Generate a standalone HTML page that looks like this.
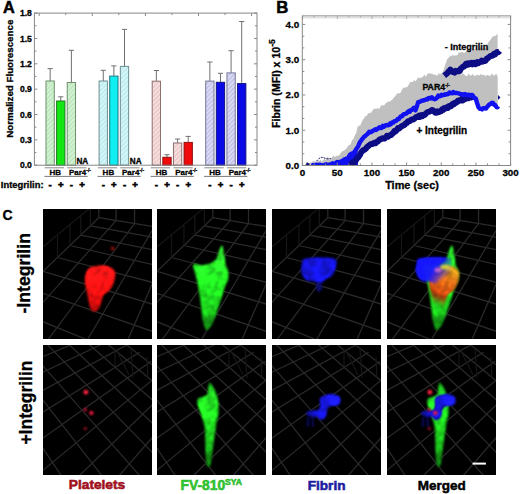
<!DOCTYPE html>
<html><head><meta charset="utf-8"><style>
html,body{margin:0;padding:0;background:#fff;width:520px;height:494px;overflow:hidden}
svg{display:block}
text{font-family:'Liberation Sans',sans-serif;font-weight:bold}
text:not([stroke]){stroke:#000;stroke-width:0.3px}
</style></head><body>
<svg width="520" height="494" viewBox="0 0 520 494">
<defs><pattern id="hg" patternUnits="userSpaceOnUse" width="3.2" height="3.2" patternTransform="rotate(45)">
<rect width="3.2" height="3.2" fill="#d2f2d2"/><rect width="1.1" height="3.2" fill="#b6e4b6"/></pattern><pattern id="hc" patternUnits="userSpaceOnUse" width="3.2" height="3.2" patternTransform="rotate(45)">
<rect width="3.2" height="3.2" fill="#d4f6f8"/><rect width="1.1" height="3.2" fill="#b6e8ee"/></pattern><pattern id="hp" patternUnits="userSpaceOnUse" width="3.2" height="3.2" patternTransform="rotate(45)">
<rect width="3.2" height="3.2" fill="#f6dede"/><rect width="1.1" height="3.2" fill="#e6c2c2"/></pattern><pattern id="hl" patternUnits="userSpaceOnUse" width="3.2" height="3.2" patternTransform="rotate(45)">
<rect width="3.2" height="3.2" fill="#dadaf4"/><rect width="1.1" height="3.2" fill="#bcbce6"/></pattern><linearGradient id="bgrad" gradientUnits="userSpaceOnUse" x1="28" y1="50" x2="62" y2="70"><stop offset="0" stop-color="#1414ff" stop-opacity="1"/><stop offset="0.55" stop-color="#1414ff" stop-opacity="0.95"/><stop offset="1" stop-color="#1414ff" stop-opacity="0"/></linearGradient><linearGradient id="og1" gradientUnits="userSpaceOnUse" x1="66" y1="56" x2="46" y2="103"><stop offset="0" stop-color="#e8c020" stop-opacity="0.95"/><stop offset="0.3" stop-color="#e87818" stop-opacity="0.95"/><stop offset="0.6" stop-color="#e05010" stop-opacity="0.92"/><stop offset="0.72" stop-color="#c04810" stop-opacity="0.6"/><stop offset="0.85" stop-color="#a03010" stop-opacity="0"/></linearGradient><linearGradient id="bg2" gradientUnits="userSpaceOnUse" x1="66" y1="50" x2="36" y2="74"><stop offset="0" stop-color="#1c1cff"/><stop offset="0.5" stop-color="#1616e0"/><stop offset="1" stop-color="#1010a8"/></linearGradient><linearGradient id="rg1" x1="0" y1="0" x2="0" y2="1"><stop offset="0" stop-color="#ff1818"/><stop offset="0.6" stop-color="#f01010"/><stop offset="1" stop-color="#b00808"/></linearGradient><linearGradient id="gg1" x1="0" y1="0" x2="0" y2="1"><stop offset="0" stop-color="#30ee30"/><stop offset="0.4" stop-color="#22f022"/><stop offset="0.75" stop-color="#1cc81c"/><stop offset="1" stop-color="#108a10"/></linearGradient><linearGradient id="gg2" x1="0" y1="0" x2="0" y2="1"><stop offset="0" stop-color="#20c020"/><stop offset="0.3" stop-color="#22e822"/><stop offset="0.7" stop-color="#1cc01c"/><stop offset="1" stop-color="#108010"/></linearGradient><filter id="bl" x="-30%" y="-30%" width="160%" height="160%"><feGaussianBlur stdDeviation="1.3"/></filter><filter id="tx" x="-30%" y="-30%" width="160%" height="160%" color-interpolation-filters="sRGB"><feGaussianBlur in="SourceGraphic" stdDeviation="1.3" result="b"/><feTurbulence type="fractalNoise" baseFrequency="0.12" numOctaves="2" seed="7" result="n"/><feColorMatrix in="n" type="matrix" values="1.3 0 0 0 0  1.3 0 0 0 0  1.3 0 0 0 0  0 0 0 0 1" result="n2"/><feComposite in="b" in2="n2" operator="arithmetic" k1="0.6" k2="0.66" k3="0" k4="0"/></filter><filter id="bl2" x="-50%" y="-50%" width="200%" height="200%"><feGaussianBlur stdDeviation="0.9"/></filter></defs>
<rect width="520" height="494" fill="#fff"/>
<g><line x1="50.15" y1="68.60" x2="50.15" y2="81.00" stroke="#707070" stroke-width="1"/><line x1="47.55" y1="68.60" x2="52.75" y2="68.60" stroke="#707070" stroke-width="1"/><rect x="46.00" y="81.00" width="8.30" height="84.20" fill="url(#hg)" stroke="#6e8e6e" stroke-width="1"/><line x1="60.77" y1="96.80" x2="60.77" y2="101.00" stroke="#707070" stroke-width="1"/><line x1="58.17" y1="96.80" x2="63.37" y2="96.80" stroke="#707070" stroke-width="1"/><rect x="56.62" y="101.00" width="8.30" height="64.20" fill="#14e614" stroke="#1e781e" stroke-width="1"/><line x1="71.39" y1="50.30" x2="71.39" y2="82.50" stroke="#707070" stroke-width="1"/><line x1="68.79" y1="50.30" x2="73.99" y2="50.30" stroke="#707070" stroke-width="1"/><rect x="67.24" y="82.50" width="8.30" height="82.70" fill="url(#hg)" stroke="#6e8e6e" stroke-width="1"/><line x1="103.25" y1="70.30" x2="103.25" y2="81.00" stroke="#707070" stroke-width="1"/><line x1="100.65" y1="70.30" x2="105.85" y2="70.30" stroke="#707070" stroke-width="1"/><rect x="99.10" y="81.00" width="8.30" height="84.20" fill="url(#hc)" stroke="#6e8e90" stroke-width="1"/><line x1="113.87" y1="65.90" x2="113.87" y2="76.10" stroke="#707070" stroke-width="1"/><line x1="111.27" y1="65.90" x2="116.47" y2="65.90" stroke="#707070" stroke-width="1"/><rect x="109.72" y="76.10" width="8.30" height="89.10" fill="#10eef2" stroke="#1e7880" stroke-width="1"/><line x1="124.49" y1="29.40" x2="124.49" y2="66.40" stroke="#707070" stroke-width="1"/><line x1="121.89" y1="29.40" x2="127.09" y2="29.40" stroke="#707070" stroke-width="1"/><rect x="120.34" y="66.40" width="8.30" height="98.80" fill="url(#hc)" stroke="#6e8e90" stroke-width="1"/><line x1="156.35" y1="70.50" x2="156.35" y2="81.20" stroke="#707070" stroke-width="1"/><line x1="153.75" y1="70.50" x2="158.95" y2="70.50" stroke="#707070" stroke-width="1"/><rect x="152.20" y="81.20" width="8.30" height="84.00" fill="url(#hp)" stroke="#8e6e6e" stroke-width="1"/><line x1="166.97" y1="154.70" x2="166.97" y2="157.30" stroke="#707070" stroke-width="1"/><line x1="164.37" y1="154.70" x2="169.57" y2="154.70" stroke="#707070" stroke-width="1"/><rect x="162.82" y="157.30" width="8.30" height="7.90" fill="#f00a0a" stroke="#901010" stroke-width="1"/><line x1="177.59" y1="139.00" x2="177.59" y2="143.00" stroke="#707070" stroke-width="1"/><line x1="174.99" y1="139.00" x2="180.19" y2="139.00" stroke="#707070" stroke-width="1"/><rect x="173.44" y="143.00" width="8.30" height="22.20" fill="url(#hp)" stroke="#8e6e6e" stroke-width="1"/><line x1="188.21" y1="136.40" x2="188.21" y2="142.40" stroke="#707070" stroke-width="1"/><line x1="185.61" y1="136.40" x2="190.81" y2="136.40" stroke="#707070" stroke-width="1"/><rect x="184.06" y="142.40" width="8.30" height="22.80" fill="#f00a0a" stroke="#901010" stroke-width="1"/><line x1="209.85" y1="62.00" x2="209.85" y2="81.10" stroke="#707070" stroke-width="1"/><line x1="207.25" y1="62.00" x2="212.45" y2="62.00" stroke="#707070" stroke-width="1"/><rect x="205.70" y="81.10" width="8.30" height="84.10" fill="url(#hl)" stroke="#76769a" stroke-width="1"/><line x1="220.47" y1="73.30" x2="220.47" y2="82.30" stroke="#707070" stroke-width="1"/><line x1="217.87" y1="73.30" x2="223.07" y2="73.30" stroke="#707070" stroke-width="1"/><rect x="216.32" y="82.30" width="8.30" height="82.90" fill="#0a0ae6" stroke="#101080" stroke-width="1"/><line x1="231.09" y1="50.70" x2="231.09" y2="72.90" stroke="#707070" stroke-width="1"/><line x1="228.49" y1="50.70" x2="233.69" y2="50.70" stroke="#707070" stroke-width="1"/><rect x="226.94" y="72.90" width="8.30" height="92.30" fill="url(#hl)" stroke="#76769a" stroke-width="1"/><line x1="241.71" y1="21.50" x2="241.71" y2="83.60" stroke="#707070" stroke-width="1"/><line x1="239.11" y1="21.50" x2="244.31" y2="21.50" stroke="#707070" stroke-width="1"/><rect x="237.56" y="83.60" width="8.30" height="81.60" fill="#0a0ae6" stroke="#101080" stroke-width="1"/><rect x="34.4" y="13.1" width="222.60" height="152.10" fill="none" stroke="#888888" stroke-width="1"/><line x1="34.4" y1="165.20" x2="37.4" y2="165.20" stroke="#888888" stroke-width="1"/><line x1="257.0" y1="165.20" x2="254.0" y2="165.20" stroke="#888888" stroke-width="1"/><line x1="34.4" y1="152.52" x2="36.4" y2="152.52" stroke="#888888" stroke-width="1"/><line x1="257.0" y1="152.52" x2="255.0" y2="152.52" stroke="#888888" stroke-width="1"/><line x1="34.4" y1="139.85" x2="37.4" y2="139.85" stroke="#888888" stroke-width="1"/><line x1="257.0" y1="139.85" x2="254.0" y2="139.85" stroke="#888888" stroke-width="1"/><line x1="34.4" y1="127.17" x2="36.4" y2="127.17" stroke="#888888" stroke-width="1"/><line x1="257.0" y1="127.17" x2="255.0" y2="127.17" stroke="#888888" stroke-width="1"/><line x1="34.4" y1="114.50" x2="37.4" y2="114.50" stroke="#888888" stroke-width="1"/><line x1="257.0" y1="114.50" x2="254.0" y2="114.50" stroke="#888888" stroke-width="1"/><line x1="34.4" y1="101.82" x2="36.4" y2="101.82" stroke="#888888" stroke-width="1"/><line x1="257.0" y1="101.82" x2="255.0" y2="101.82" stroke="#888888" stroke-width="1"/><line x1="34.4" y1="89.15" x2="37.4" y2="89.15" stroke="#888888" stroke-width="1"/><line x1="257.0" y1="89.15" x2="254.0" y2="89.15" stroke="#888888" stroke-width="1"/><line x1="34.4" y1="76.47" x2="36.4" y2="76.47" stroke="#888888" stroke-width="1"/><line x1="257.0" y1="76.47" x2="255.0" y2="76.47" stroke="#888888" stroke-width="1"/><line x1="34.4" y1="63.80" x2="37.4" y2="63.80" stroke="#888888" stroke-width="1"/><line x1="257.0" y1="63.80" x2="254.0" y2="63.80" stroke="#888888" stroke-width="1"/><line x1="34.4" y1="51.12" x2="36.4" y2="51.12" stroke="#888888" stroke-width="1"/><line x1="257.0" y1="51.12" x2="255.0" y2="51.12" stroke="#888888" stroke-width="1"/><line x1="34.4" y1="38.45" x2="37.4" y2="38.45" stroke="#888888" stroke-width="1"/><line x1="257.0" y1="38.45" x2="254.0" y2="38.45" stroke="#888888" stroke-width="1"/><line x1="34.4" y1="25.78" x2="36.4" y2="25.78" stroke="#888888" stroke-width="1"/><line x1="257.0" y1="25.78" x2="255.0" y2="25.78" stroke="#888888" stroke-width="1"/><line x1="34.4" y1="13.10" x2="37.4" y2="13.10" stroke="#888888" stroke-width="1"/><line x1="257.0" y1="13.10" x2="254.0" y2="13.10" stroke="#888888" stroke-width="1"/><line x1="39.20" y1="13.1" x2="39.20" y2="16.1" stroke="#888888" stroke-width="1"/><line x1="65.75" y1="13.1" x2="65.75" y2="15.1" stroke="#888888" stroke-width="1"/><line x1="92.30" y1="13.1" x2="92.30" y2="16.1" stroke="#888888" stroke-width="1"/><line x1="118.85" y1="13.1" x2="118.85" y2="15.1" stroke="#888888" stroke-width="1"/><line x1="145.40" y1="13.1" x2="145.40" y2="16.1" stroke="#888888" stroke-width="1"/><line x1="171.95" y1="13.1" x2="171.95" y2="15.1" stroke="#888888" stroke-width="1"/><line x1="198.50" y1="13.1" x2="198.50" y2="16.1" stroke="#888888" stroke-width="1"/><line x1="225.05" y1="13.1" x2="225.05" y2="15.1" stroke="#888888" stroke-width="1"/><line x1="251.60" y1="13.1" x2="251.60" y2="16.1" stroke="#888888" stroke-width="1"/><text x="31.9" y="168.30" text-anchor="end" font-size="8.6">0.0</text><text x="31.9" y="142.95" text-anchor="end" font-size="8.6">0.3</text><text x="31.9" y="117.60" text-anchor="end" font-size="8.6">0.6</text><text x="31.9" y="92.25" text-anchor="end" font-size="8.6">0.9</text><text x="31.9" y="66.90" text-anchor="end" font-size="8.6">1.2</text><text x="31.9" y="41.55" text-anchor="end" font-size="8.6">1.5</text><text x="31.9" y="16.20" text-anchor="end" font-size="8.6">1.8</text><text x="76.4" y="163.7" font-size="8.2">NA</text><text x="129.8" y="163.7" font-size="8.2">NA</text><line x1="44.70" y1="167.8" x2="64.00" y2="167.8" stroke="#8a8a8a" stroke-width="1"/><line x1="67.20" y1="167.8" x2="86.50" y2="167.8" stroke="#8a8a8a" stroke-width="1"/><line x1="44.40" y1="176.4" x2="87.70" y2="176.4" stroke="#7a7a7a" stroke-width="1"/><text x="55.30" y="175.2" text-anchor="middle" font-size="8">HB</text><text x="68.94" y="175.2" font-size="8">Par4<tspan dy="-3" font-size="5">-/-</tspan></text><text x="50.15" y="187.8" text-anchor="middle" font-size="9.6" stroke="#000" stroke-width="0.55">-</text><text x="60.77" y="187.8" text-anchor="middle" font-size="9.6" stroke="#000" stroke-width="0.55">+</text><text x="71.39" y="187.8" text-anchor="middle" font-size="9.6" stroke="#000" stroke-width="0.55">-</text><text x="82.01" y="187.8" text-anchor="middle" font-size="9.6" stroke="#000" stroke-width="0.55">+</text><line x1="97.80" y1="167.8" x2="117.10" y2="167.8" stroke="#8a8a8a" stroke-width="1"/><line x1="120.30" y1="167.8" x2="139.60" y2="167.8" stroke="#8a8a8a" stroke-width="1"/><line x1="97.50" y1="176.4" x2="140.80" y2="176.4" stroke="#7a7a7a" stroke-width="1"/><text x="108.40" y="175.2" text-anchor="middle" font-size="8">HB</text><text x="122.04" y="175.2" font-size="8">Par4<tspan dy="-3" font-size="5">-/-</tspan></text><text x="103.25" y="187.8" text-anchor="middle" font-size="9.6" stroke="#000" stroke-width="0.55">-</text><text x="113.87" y="187.8" text-anchor="middle" font-size="9.6" stroke="#000" stroke-width="0.55">+</text><text x="124.49" y="187.8" text-anchor="middle" font-size="9.6" stroke="#000" stroke-width="0.55">-</text><text x="135.11" y="187.8" text-anchor="middle" font-size="9.6" stroke="#000" stroke-width="0.55">+</text><line x1="150.90" y1="167.8" x2="170.20" y2="167.8" stroke="#8a8a8a" stroke-width="1"/><line x1="173.40" y1="167.8" x2="192.70" y2="167.8" stroke="#8a8a8a" stroke-width="1"/><line x1="150.60" y1="176.4" x2="193.90" y2="176.4" stroke="#7a7a7a" stroke-width="1"/><text x="161.50" y="175.2" text-anchor="middle" font-size="8">HB</text><text x="175.14" y="175.2" font-size="8">Par4<tspan dy="-3" font-size="5">-/-</tspan></text><text x="156.35" y="187.8" text-anchor="middle" font-size="9.6" stroke="#000" stroke-width="0.55">-</text><text x="166.97" y="187.8" text-anchor="middle" font-size="9.6" stroke="#000" stroke-width="0.55">+</text><text x="177.59" y="187.8" text-anchor="middle" font-size="9.6" stroke="#000" stroke-width="0.55">-</text><text x="188.21" y="187.8" text-anchor="middle" font-size="9.6" stroke="#000" stroke-width="0.55">+</text><line x1="204.40" y1="167.8" x2="223.70" y2="167.8" stroke="#8a8a8a" stroke-width="1"/><line x1="226.90" y1="167.8" x2="246.20" y2="167.8" stroke="#8a8a8a" stroke-width="1"/><line x1="204.10" y1="176.4" x2="247.40" y2="176.4" stroke="#7a7a7a" stroke-width="1"/><text x="215.00" y="175.2" text-anchor="middle" font-size="8">HB</text><text x="228.64" y="175.2" font-size="8">Par4<tspan dy="-3" font-size="5">-/-</tspan></text><text x="209.85" y="187.8" text-anchor="middle" font-size="9.6" stroke="#000" stroke-width="0.55">-</text><text x="220.47" y="187.8" text-anchor="middle" font-size="9.6" stroke="#000" stroke-width="0.55">+</text><text x="231.09" y="187.8" text-anchor="middle" font-size="9.6" stroke="#000" stroke-width="0.55">-</text><text x="241.71" y="187.8" text-anchor="middle" font-size="9.6" stroke="#000" stroke-width="0.55">+</text><text x="0.8" y="187.5" font-size="9.4">Integrilin:</text><text transform="translate(12.6,137.7) rotate(-90)" font-size="9.6" textLength="118" lengthAdjust="spacingAndGlyphs">Normalized  Fluorescence</text><text x="3.0" y="12.9" font-size="16.3" stroke-width="0.5" stroke="#000">A</text></g>
<g><clipPath id="cpB"><rect x="302.3" y="15.9" width="208.30" height="149.60"/></clipPath><g clip-path="url(#cpB)"><polygon points="305.0,165.1 306.4,162.3 307.7,162.2 309.0,163.5 310.3,162.5 311.5,162.4 312.8,161.5 314.1,160.8 315.4,162.8 316.6,162.7 317.9,159.9 319.2,160.9 320.5,159.6 321.8,161.7 323.1,160.0 324.4,158.8 325.6,160.1 326.9,157.5 328.2,157.3 329.5,159.8 330.8,159.5 332.1,157.3 333.4,155.5 334.6,156.7 335.9,156.6 337.2,155.4 338.5,156.1 339.9,154.3 341.2,152.4 342.6,151.0 344.0,150.7 345.3,149.5 346.7,148.3 348.0,145.9 349.4,144.9 350.7,144.1 352.1,139.9 353.4,139.2 354.7,135.5 356.1,133.5 357.4,127.4 358.7,125.6 360.1,125.8 361.4,122.9 362.7,120.0 364.0,118.4 365.4,116.0 366.7,115.9 368.0,113.6 369.4,113.0 370.7,113.1 372.1,111.2 373.4,109.2 374.7,108.6 376.1,108.9 377.4,107.9 378.8,108.9 380.1,107.5 381.4,105.0 382.8,105.5 384.1,105.5 385.5,103.6 386.8,102.4 388.1,101.6 389.5,101.8 390.8,100.7 392.2,99.7 393.5,98.0 395.1,96.3 396.7,94.2 398.0,93.0 399.4,93.5 400.7,92.5 402.1,89.4 403.4,87.6 404.7,87.7 406.0,87.3 407.4,86.9 408.7,84.8 410.0,82.2 411.3,82.0 412.7,82.0 414.0,80.1 415.4,81.4 416.7,79.7 418.0,77.6 419.4,78.1 420.7,77.7 422.0,77.6 423.3,76.2 424.6,74.4 426.0,77.0 427.3,74.0 428.6,73.4 429.8,73.2 431.1,73.8 432.3,73.7 433.5,74.7 434.8,74.6 436.0,75.1 437.2,76.1 438.4,73.3 439.6,74.1 440.8,75.1 442.0,73.9 443.2,74.0 444.4,74.4 445.6,74.5 446.8,73.9 448.1,73.6 449.3,73.7 450.5,74.2 451.7,75.6 452.9,75.0 454.1,75.2 455.3,73.9 456.5,73.0 457.7,73.2 459.0,73.3 460.2,73.2 461.4,75.0 462.6,73.2 463.8,73.7 465.0,75.6 466.2,75.9 467.4,75.9 468.6,73.6 469.9,75.2 471.1,75.7 472.3,74.0 473.5,75.0 474.7,75.9 475.9,75.6 477.1,74.4 478.3,75.6 479.5,75.3 480.7,73.9 482.0,74.8 483.2,75.2 484.4,74.7 485.6,76.2 486.8,75.1 488.0,75.0 489.2,75.7 490.4,76.0 491.6,73.5 492.9,74.8 494.1,75.8 495.3,74.5 496.5,73.9 497.7,76.4 497.7,106.0 480.0,106.0 476.0,99.0 474.0,96.8 467.1,97.8 460.0,100.6 455.4,102.7 450.0,106.3 445.0,108.5 440.0,111.0 436.4,112.6 431.9,110.3 427.3,112.2 423.4,115.0 418.2,116.6 409.1,120.6 403.4,125.2 396.7,129.4 391.0,134.4 386.8,136.5 380.0,140.2 372.3,144.2 366.2,147.4 362.1,151.5 358.1,157.5 355.0,161.0 350.0,165.5 340.0,165.5" fill="#c0c0c0"/><polygon points="438.0,76.3 439.5,75.5 441.0,73.3 442.5,72.8 444.2,68.2 446.0,62.3 447.3,59.1 448.6,57.8 449.8,56.3 451.1,56.3 452.4,55.1 453.6,55.6 454.9,55.6 456.2,55.5 457.5,54.9 458.7,52.5 460.0,52.5 461.2,52.2 462.5,51.7 463.7,53.1 465.0,52.4 466.2,51.0 467.5,50.2 468.7,49.4 469.9,49.2 471.2,51.4 472.4,49.6 473.6,49.2 474.8,49.6 476.1,50.4 477.3,49.3 478.5,50.3 479.8,47.6 481.0,47.7 482.3,48.5 483.5,49.2 484.8,47.2 486.0,48.1 487.2,44.5 488.5,42.0 489.8,40.7 491.1,38.8 492.4,36.9 493.7,36.0 495.0,36.2 496.3,35.1 497.6,33.6 497.6,52.0 499.6,50.8 492.7,55.6 485.7,59.8 475.4,63.2 465.0,64.6 459.8,71.0 454.6,71.8 449.4,70.2 444.2,75.5" fill="#c0c0c0"/><polygon points="311.0,165.6 311.0,164.5 323.0,164.0 334.6,162.6 340.0,160.5 346.2,157.5 351.0,153.5 354.0,151.5 357.4,147.5 358.0,165.6" fill="#1010f0"/><polyline points="350.0,166.3 351.0,165.4 352.0,162.9 353.0,162.1 354.0,162.5 355.0,161.4 356.0,160.1 357.1,158.3 358.1,157.7 359.1,156.2 360.1,154.6 361.1,152.4 362.1,151.4 363.1,150.3 364.1,149.9 365.2,149.3 366.2,148.2 367.2,146.9 368.2,146.2 369.2,145.4 370.3,144.4 371.3,143.9 372.3,144.1 373.4,143.3 374.5,142.8 375.6,143.2 376.7,142.0 377.8,141.5 378.9,140.3 380.0,139.3 381.1,139.3 382.3,138.3 383.4,138.4 384.5,138.6 385.7,137.4 386.8,135.9 387.9,136.7 388.9,136.0 389.9,135.3 391.0,135.1 392.1,133.9 393.3,132.9 394.4,131.1 395.6,131.3 396.7,130.2 397.8,128.1 398.9,128.5 400.0,127.7 401.2,126.5 402.3,126.0 403.4,125.2 404.5,125.0 405.7,123.4 406.8,123.0 408.0,121.3 409.1,121.3 410.1,120.9 411.1,119.6 412.1,119.4 413.1,119.6 414.2,118.8 415.2,117.9 416.2,117.0 417.2,116.7 418.2,117.0 419.2,115.7 420.3,116.7 421.3,115.2 422.4,116.1 423.4,114.7 424.7,114.9 426.0,113.5 427.3,112.2 428.4,111.8 429.6,111.5 430.8,110.9 431.9,110.0 433.0,110.3 434.1,111.5 435.3,112.8 436.4,112.8 437.6,111.3 438.8,112.1 440.0,111.4 441.0,111.2 442.0,109.4 443.0,109.9 444.0,108.2 445.0,108.8 446.0,107.7 447.0,107.1 448.0,107.9 449.0,106.0 450.0,106.3 451.1,106.2 452.2,104.4 453.2,103.6 454.3,104.1 455.4,102.6 456.5,102.6 457.7,100.8 458.9,100.9 460.0,100.0 461.0,100.5 462.0,99.0 463.0,100.2 464.1,98.1 465.1,99.0 466.1,97.3 467.1,97.4 468.2,98.2 469.4,96.8 470.6,96.7 471.7,97.5 472.9,96.8 474.0,96.0" fill="none" stroke="#0c0c84" stroke-width="6" stroke-linejoin="round"/><polyline points="311.0,165.1 312.0,165.5 313.0,165.2 314.0,165.6 315.0,165.6 316.0,164.7 317.0,164.6 318.0,165.9 319.0,164.9 320.0,164.8 321.0,166.0 322.0,165.2 323.0,165.7 324.1,165.0 325.1,165.2 326.2,164.3 327.2,164.9 328.3,165.2 329.3,164.5 330.4,164.7 331.4,164.5 332.5,163.4 333.5,164.3 334.6,163.9 335.7,163.0 336.8,162.1 337.8,163.0 338.9,161.9 340.0,161.9 341.0,161.7 342.1,160.9 343.1,160.8 344.1,159.5 345.2,159.7 346.2,158.7 347.4,158.4 348.6,157.3 349.8,154.9 351.0,153.9 352.0,153.4 353.0,153.9 354.0,152.4 355.2,151.0 356.5,148.7 358.1,146.4 359.1,144.0 360.1,141.8 361.1,140.6 362.2,139.0 363.2,137.9 364.2,136.6 365.2,136.1 366.2,135.0 367.2,134.3 368.2,133.2 369.2,131.8 370.3,132.3 371.3,131.9 372.3,131.2 373.3,130.4 374.3,130.3 375.3,129.2 376.3,129.9 377.3,129.1 378.4,128.2 379.5,127.3 380.6,128.1 381.7,127.9 382.8,125.9 383.8,126.8 384.9,125.8 385.9,125.1 386.9,125.0 387.9,125.4 388.9,125.2 390.0,123.6 391.0,124.2 392.1,122.4 393.3,122.6 394.4,121.1 395.6,121.1 396.7,120.4 397.8,118.9 398.9,119.0 400.0,117.2 401.1,116.1 402.2,116.2 403.3,114.6 404.4,114.1 405.5,113.8 406.6,113.4 407.7,111.9 408.7,111.1 409.8,111.7 410.9,110.1 412.3,109.6 413.7,107.9 415.5,110.3 416.9,106.3 418.2,102.2 419.4,101.9 420.5,101.4 421.6,100.8 422.8,100.4 423.9,100.6 425.1,99.7 426.2,99.3 427.3,99.5 428.4,98.2 429.6,97.9 430.8,98.5 431.9,97.3 433.2,98.7 434.6,99.2 435.8,98.7 437.1,97.7 438.3,95.6 439.4,96.3 440.5,96.0 441.6,94.8 442.6,95.4 443.7,94.8 444.8,94.9 445.9,94.1 447.0,94.3 448.1,94.1 449.1,92.7 450.1,92.5 451.2,93.2 452.2,93.4 453.3,92.0 454.4,92.6 455.4,93.1 456.5,92.9 457.6,93.2 458.7,93.4 459.8,93.8 460.8,94.4 461.9,94.2 462.9,94.4 464.0,95.1 465.0,94.0 466.1,95.0 467.1,95.4 468.1,94.8 469.2,94.8 470.2,95.8 471.3,95.0 472.3,95.0 473.4,96.6 474.6,98.2 475.7,98.4 477.1,103.0 478.5,107.2 479.8,108.8 481.0,108.9 482.0,109.4 483.0,108.1 484.0,108.1 485.0,108.4 486.0,108.6 487.1,106.9 488.3,105.6 489.5,104.4 490.6,104.0 491.8,102.8 493.0,103.0 494.2,104.7 495.3,105.3 496.5,107.1 497.5,107.2 498.5,106.2" fill="none" stroke="#1010f0" stroke-width="4.4" stroke-linejoin="round"/><polyline points="444.2,75.7 445.2,74.9 446.3,74.0 447.3,73.2 448.4,71.7 449.4,71.0 450.4,69.6 451.5,70.8 452.5,72.0 453.6,71.8 454.6,72.6 455.6,70.9 456.7,71.4 457.7,70.8 458.8,71.2 459.8,71.1 460.8,68.7 461.9,67.9 462.9,66.7 464.0,66.7 465.0,65.1 466.0,63.8 467.1,64.9 468.1,63.5 469.2,64.3 470.2,63.2 471.2,62.8 472.3,64.4 473.3,62.9 474.4,62.8 475.4,64.2 476.4,63.6 477.5,62.1 478.5,63.1 479.5,61.9 480.5,61.9 481.6,60.6 482.6,61.7 483.6,60.9 484.7,61.1 485.7,60.6 486.7,58.8 487.7,58.3 488.7,57.3 489.7,56.7 490.7,55.9 491.7,55.8 492.7,55.8 493.9,53.8 495.0,54.4 496.1,52.9 497.3,52.0 498.5,52.2 499.6,50.8" fill="none" stroke="#0c0c84" stroke-width="6" stroke-linejoin="round"/><polygon points="305.5,165.4 307,162.6 309.3,163.4 309.6,165.4" fill="#0c0c84"/><polyline points="316.2,161.4 319,158.5 321.9,157.2 325,158.2 328,158.9 331.2,158.6" fill="none" stroke="#1a1a70" stroke-width="1" stroke-dasharray="2,1"/><polygon points="498,95 500.5,97.5 498,100" fill="#0c0c84"/></g><rect x="302.3" y="15.9" width="208.30" height="149.60" fill="none" stroke="#888888" stroke-width="1"/><line x1="302.60" y1="165.5" x2="302.60" y2="162.5" stroke="#888888" stroke-width="1"/><line x1="302.60" y1="15.9" x2="302.60" y2="18.9" stroke="#888888" stroke-width="1"/><line x1="314.16" y1="165.5" x2="314.16" y2="163.5" stroke="#888888" stroke-width="1"/><line x1="314.16" y1="15.9" x2="314.16" y2="17.9" stroke="#888888" stroke-width="1"/><line x1="325.71" y1="165.5" x2="325.71" y2="163.5" stroke="#888888" stroke-width="1"/><line x1="325.71" y1="15.9" x2="325.71" y2="17.9" stroke="#888888" stroke-width="1"/><line x1="337.27" y1="165.5" x2="337.27" y2="162.5" stroke="#888888" stroke-width="1"/><line x1="337.27" y1="15.9" x2="337.27" y2="18.9" stroke="#888888" stroke-width="1"/><line x1="348.82" y1="165.5" x2="348.82" y2="163.5" stroke="#888888" stroke-width="1"/><line x1="348.82" y1="15.9" x2="348.82" y2="17.9" stroke="#888888" stroke-width="1"/><line x1="360.38" y1="165.5" x2="360.38" y2="163.5" stroke="#888888" stroke-width="1"/><line x1="360.38" y1="15.9" x2="360.38" y2="17.9" stroke="#888888" stroke-width="1"/><line x1="371.93" y1="165.5" x2="371.93" y2="162.5" stroke="#888888" stroke-width="1"/><line x1="371.93" y1="15.9" x2="371.93" y2="18.9" stroke="#888888" stroke-width="1"/><line x1="383.49" y1="165.5" x2="383.49" y2="163.5" stroke="#888888" stroke-width="1"/><line x1="383.49" y1="15.9" x2="383.49" y2="17.9" stroke="#888888" stroke-width="1"/><line x1="395.04" y1="165.5" x2="395.04" y2="163.5" stroke="#888888" stroke-width="1"/><line x1="395.04" y1="15.9" x2="395.04" y2="17.9" stroke="#888888" stroke-width="1"/><line x1="406.60" y1="165.5" x2="406.60" y2="162.5" stroke="#888888" stroke-width="1"/><line x1="406.60" y1="15.9" x2="406.60" y2="18.9" stroke="#888888" stroke-width="1"/><line x1="418.16" y1="165.5" x2="418.16" y2="163.5" stroke="#888888" stroke-width="1"/><line x1="418.16" y1="15.9" x2="418.16" y2="17.9" stroke="#888888" stroke-width="1"/><line x1="429.71" y1="165.5" x2="429.71" y2="163.5" stroke="#888888" stroke-width="1"/><line x1="429.71" y1="15.9" x2="429.71" y2="17.9" stroke="#888888" stroke-width="1"/><line x1="441.27" y1="165.5" x2="441.27" y2="162.5" stroke="#888888" stroke-width="1"/><line x1="441.27" y1="15.9" x2="441.27" y2="18.9" stroke="#888888" stroke-width="1"/><line x1="452.82" y1="165.5" x2="452.82" y2="163.5" stroke="#888888" stroke-width="1"/><line x1="452.82" y1="15.9" x2="452.82" y2="17.9" stroke="#888888" stroke-width="1"/><line x1="464.38" y1="165.5" x2="464.38" y2="163.5" stroke="#888888" stroke-width="1"/><line x1="464.38" y1="15.9" x2="464.38" y2="17.9" stroke="#888888" stroke-width="1"/><line x1="475.93" y1="165.5" x2="475.93" y2="162.5" stroke="#888888" stroke-width="1"/><line x1="475.93" y1="15.9" x2="475.93" y2="18.9" stroke="#888888" stroke-width="1"/><line x1="487.49" y1="165.5" x2="487.49" y2="163.5" stroke="#888888" stroke-width="1"/><line x1="487.49" y1="15.9" x2="487.49" y2="17.9" stroke="#888888" stroke-width="1"/><line x1="499.04" y1="165.5" x2="499.04" y2="163.5" stroke="#888888" stroke-width="1"/><line x1="499.04" y1="15.9" x2="499.04" y2="17.9" stroke="#888888" stroke-width="1"/><line x1="510.60" y1="165.5" x2="510.60" y2="162.5" stroke="#888888" stroke-width="1"/><line x1="510.60" y1="15.9" x2="510.60" y2="18.9" stroke="#888888" stroke-width="1"/><rect x="303.3" y="16.5" width="206.3" height="2" fill="#d6d6d6" opacity="0.7"/><line x1="302.3" y1="165.50" x2="305.3" y2="165.50" stroke="#888888" stroke-width="1"/><line x1="510.6" y1="165.50" x2="507.6" y2="165.50" stroke="#888888" stroke-width="1"/><line x1="302.3" y1="153.74" x2="304.3" y2="153.74" stroke="#888888" stroke-width="1"/><line x1="510.6" y1="153.74" x2="508.6" y2="153.74" stroke="#888888" stroke-width="1"/><line x1="302.3" y1="141.99" x2="304.3" y2="141.99" stroke="#888888" stroke-width="1"/><line x1="510.6" y1="141.99" x2="508.6" y2="141.99" stroke="#888888" stroke-width="1"/><line x1="302.3" y1="130.23" x2="305.3" y2="130.23" stroke="#888888" stroke-width="1"/><line x1="510.6" y1="130.23" x2="507.6" y2="130.23" stroke="#888888" stroke-width="1"/><line x1="302.3" y1="118.47" x2="304.3" y2="118.47" stroke="#888888" stroke-width="1"/><line x1="510.6" y1="118.47" x2="508.6" y2="118.47" stroke="#888888" stroke-width="1"/><line x1="302.3" y1="106.72" x2="304.3" y2="106.72" stroke="#888888" stroke-width="1"/><line x1="510.6" y1="106.72" x2="508.6" y2="106.72" stroke="#888888" stroke-width="1"/><line x1="302.3" y1="94.96" x2="305.3" y2="94.96" stroke="#888888" stroke-width="1"/><line x1="510.6" y1="94.96" x2="507.6" y2="94.96" stroke="#888888" stroke-width="1"/><line x1="302.3" y1="83.20" x2="304.3" y2="83.20" stroke="#888888" stroke-width="1"/><line x1="510.6" y1="83.20" x2="508.6" y2="83.20" stroke="#888888" stroke-width="1"/><line x1="302.3" y1="71.45" x2="304.3" y2="71.45" stroke="#888888" stroke-width="1"/><line x1="510.6" y1="71.45" x2="508.6" y2="71.45" stroke="#888888" stroke-width="1"/><line x1="302.3" y1="59.69" x2="305.3" y2="59.69" stroke="#888888" stroke-width="1"/><line x1="510.6" y1="59.69" x2="507.6" y2="59.69" stroke="#888888" stroke-width="1"/><line x1="302.3" y1="47.93" x2="304.3" y2="47.93" stroke="#888888" stroke-width="1"/><line x1="510.6" y1="47.93" x2="508.6" y2="47.93" stroke="#888888" stroke-width="1"/><line x1="302.3" y1="36.18" x2="304.3" y2="36.18" stroke="#888888" stroke-width="1"/><line x1="510.6" y1="36.18" x2="508.6" y2="36.18" stroke="#888888" stroke-width="1"/><line x1="302.3" y1="24.42" x2="305.3" y2="24.42" stroke="#888888" stroke-width="1"/><line x1="510.6" y1="24.42" x2="507.6" y2="24.42" stroke="#888888" stroke-width="1"/><text x="299.2" y="169.00" text-anchor="end" font-size="9.8">0.0</text><text x="299.2" y="133.73" text-anchor="end" font-size="9.8">1.0</text><text x="299.2" y="98.46" text-anchor="end" font-size="9.8">2.0</text><text x="299.2" y="63.19" text-anchor="end" font-size="9.8">3.0</text><text x="299.2" y="27.92" text-anchor="end" font-size="9.8">4.0</text><text x="302.60" y="175.9" text-anchor="middle" font-size="9.8">0</text><text x="337.27" y="175.9" text-anchor="middle" font-size="9.8">50</text><text x="371.93" y="175.9" text-anchor="middle" font-size="9.8">100</text><text x="406.60" y="175.9" text-anchor="middle" font-size="9.8">150</text><text x="441.27" y="175.9" text-anchor="middle" font-size="9.8">200</text><text x="475.93" y="175.9" text-anchor="middle" font-size="9.8">250</text><text x="510.60" y="175.9" text-anchor="middle" font-size="9.8">300</text><text x="412" y="189.4" text-anchor="middle" font-size="10.9">Time (sec)</text><text transform="translate(279.8,128) rotate(-90)" font-size="10.6">Fibrin (MFI) x 10<tspan dy="-4.4" font-size="8.6">-5</tspan></text><text x="276.2" y="13.1" font-size="16.8" stroke-width="0.5" stroke="#000">B</text><text x="444.8" y="49.8" font-size="9">- Integrilin</text><text x="422.4" y="89.9" font-size="8.8">PAR4<tspan dy="-3.2" font-size="5">-/-</tspan></text><text x="416.4" y="134.1" font-size="10">+ Integrilin</text></g>
<g><text x="2.6" y="220.2" font-size="14">C</text><text transform="translate(30.2,313.6) rotate(-90)" font-size="17.7">-Integrilin</text><text transform="translate(31.9,444.6) rotate(-90)" font-size="17.5">+Integrilin</text><text x="97.0" y="489.4" text-anchor="middle" font-size="13.7" fill="#a01020" stroke="#a01020" stroke-width="0.6">Platelets</text><text x="180.6" y="489.6" font-size="13.8" fill="#30c030" stroke="#30c030" stroke-width="0.6">FV-810<tspan dy="-5" font-size="8.5">SYA</tspan></text><text x="326.6" y="489.6" text-anchor="middle" font-size="13.6" fill="#1c1ca0" stroke="#1c1ca0" stroke-width="0.6">Fibrin</text><text x="441.8" y="489.6" text-anchor="middle" font-size="13.5" fill="#000" stroke="#000" stroke-width="0.5">Merged</text><clipPath id="cp10"><rect x="43" y="209" width="109" height="130"/></clipPath><clipPath id="cp20"><rect x="43" y="345" width="109" height="130"/></clipPath><clipPath id="cp11"><rect x="157" y="209" width="109" height="130"/></clipPath><clipPath id="cp21"><rect x="157" y="345" width="109" height="130"/></clipPath><clipPath id="cp12"><rect x="272" y="209" width="109" height="130"/></clipPath><clipPath id="cp22"><rect x="272" y="345" width="109" height="130"/></clipPath><clipPath id="cp13"><rect x="387" y="209" width="109" height="130"/></clipPath><clipPath id="cp23"><rect x="387" y="345" width="109" height="130"/></clipPath><g clip-path="url(#cp10)"><rect x="43" y="209" width="109" height="130" fill="#000"/><g stroke="#2a2a2a" stroke-width="1.25"><line x1="98.8" y1="217.7" x2="249.8" y2="242.6"/><line x1="90.3" y1="225.9" x2="250.6" y2="255.3"/><line x1="80.8" y1="235.1" x2="251.4" y2="270.1"/><line x1="69.9" y1="245.5" x2="252.5" y2="287.7"/><line x1="57.5" y1="257.5" x2="253.7" y2="308.9"/><line x1="43.1" y1="271.3" x2="255.2" y2="335.0"/><line x1="26.3" y1="287.5" x2="257.2" y2="367.8"/><line x1="6.3" y1="306.7" x2="259.7" y2="410.4"/><line x1="-17.8" y1="329.9" x2="263.0" y2="467.9"/><line x1="-47.4" y1="358.4" x2="267.8" y2="549.7"/><line x1="98.8" y1="217.7" x2="-84.6" y2="394.2"/><line x1="116.1" y1="220.6" x2="-57.9" y2="415.2"/><line x1="134.5" y1="223.6" x2="-26.5" y2="439.7"/><line x1="154.3" y1="226.9" x2="10.9" y2="468.9"/><line x1="175.5" y1="230.4" x2="56.2" y2="504.3"/><line x1="198.4" y1="234.2" x2="112.1" y2="548.0"/><line x1="223.1" y1="238.2" x2="182.8" y2="603.3"/><line x1="98.8" y1="217.7" x2="98.8" y2="207.0"/><line x1="116.1" y1="220.6" x2="116.1" y2="207.0"/><line x1="134.5" y1="223.6" x2="134.5" y2="207.0"/><line x1="154.3" y1="226.9" x2="154.3" y2="207.0"/></g><g stroke="#161616" stroke-width="1.25"><line x1="90.3" y1="225.9" x2="90.3" y2="207.4"/><line x1="80.8" y1="235.1" x2="80.8" y2="215.1"/><line x1="69.9" y1="245.5" x2="69.9" y2="224.0"/><line x1="57.5" y1="257.5" x2="57.5" y2="234.5"/><line x1="98.8" y1="200.7" x2="43.1" y2="246.8"/></g><g transform="translate(43,209)"><path d="M49.1,57.8 C51.3,57.1 55.4,56.5 58.3,56.5 C61.1,56.5 64.0,56.9 66.2,57.8 C68.4,58.7 70.5,60.3 71.5,61.8 C72.5,63.3 72.3,64.8 72.1,67.0 C71.9,69.2 71.2,72.5 70.2,74.9 C69.2,77.3 67.8,79.7 66.2,81.5 C64.7,83.3 62.1,84.0 60.9,85.5 C59.7,87.0 59.6,88.7 59.0,90.7 C58.4,92.7 57.8,95.5 57.0,97.3 C56.2,99.1 55.5,100.4 54.4,101.3 C53.3,102.2 51.6,103.0 50.4,102.6 C49.2,102.1 48.0,100.8 47.1,98.6 C46.2,96.4 45.9,92.5 45.2,89.4 C44.6,86.3 43.8,83.1 43.2,80.2 C42.7,77.3 42.0,74.7 41.9,72.3 C41.8,69.9 42.0,67.7 42.5,65.7 C43.0,63.7 44.1,61.8 45.2,60.5 C46.3,59.2 46.9,58.5 49.1,57.8 Z" fill="url(#rg1)" filter="url(#tx)"/><circle cx="69.7" cy="39.5" r="2" fill="#901010" filter="url(#bl2)"/></g></g><g clip-path="url(#cp20)"><rect x="43" y="345" width="109" height="130" fill="#000"/><g stroke="#2a2a2a" stroke-width="1.25"><line x1="-104.3" y1="398.2" x2="100.0" y2="321.9"/><line x1="-98.9" y1="416.3" x2="109.0" y2="328.8"/><line x1="-92.7" y1="436.7" x2="118.6" y2="336.2"/><line x1="-85.7" y1="459.9" x2="128.7" y2="344.0"/><line x1="-77.8" y1="486.5" x2="139.6" y2="352.3"/><line x1="-68.5" y1="517.2" x2="151.2" y2="361.2"/><line x1="-57.7" y1="553.3" x2="163.6" y2="370.7"/><line x1="-44.9" y1="596.0" x2="177.0" y2="381.0"/><line x1="-29.4" y1="647.5" x2="191.4" y2="392.1"/><line x1="-10.4" y1="710.8" x2="206.9" y2="404.0"/><line x1="13.6" y1="790.5" x2="223.7" y2="416.9"/><line x1="-104.3" y1="398.2" x2="44.7" y2="893.9"/><line x1="-69.2" y1="385.0" x2="97.9" y2="768.9"/><line x1="-39.3" y1="373.9" x2="134.2" y2="684.0"/><line x1="-13.7" y1="364.4" x2="160.4" y2="622.5"/><line x1="8.5" y1="356.1" x2="180.3" y2="575.9"/><line x1="28.0" y1="348.8" x2="195.8" y2="539.4"/><line x1="45.3" y1="342.4" x2="208.4" y2="510.0"/><line x1="60.6" y1="336.6" x2="218.7" y2="485.8"/><line x1="74.3" y1="331.5" x2="227.3" y2="465.6"/><line x1="86.7" y1="326.9" x2="234.6" y2="448.5"/><line x1="97.9" y1="322.7" x2="240.9" y2="433.7"/></g><g stroke="#161616" stroke-width="1.25"><line x1="115.0" y1="350.0" x2="115.0" y2="367.0"/><line x1="131.0" y1="348.0" x2="133.0" y2="378.0"/><line x1="147.0" y1="357.0" x2="148.0" y2="379.0"/><line x1="117.0" y1="351.0" x2="129.0" y2="375.0"/></g><g transform="translate(43,345)"><circle cx="42.9" cy="47.2" r="2.4" fill="#ff2040" filter="url(#bl2)"/><circle cx="42.3" cy="64.8" r="1.8" fill="#c01030" filter="url(#bl2)"/><circle cx="48.4" cy="68" r="2.2" fill="#e01838" filter="url(#bl2)"/><circle cx="42.3" cy="83.6" r="1.8" fill="#801020" filter="url(#bl2)"/></g></g><g clip-path="url(#cp11)"><rect x="157" y="209" width="109" height="130" fill="#000"/><g stroke="#2a2a2a" stroke-width="1.25"><line x1="212.8" y1="217.7" x2="363.8" y2="242.6"/><line x1="204.3" y1="225.9" x2="364.6" y2="255.3"/><line x1="194.8" y1="235.1" x2="365.4" y2="270.1"/><line x1="183.9" y1="245.5" x2="366.5" y2="287.7"/><line x1="171.5" y1="257.5" x2="367.7" y2="308.9"/><line x1="157.1" y1="271.3" x2="369.2" y2="335.0"/><line x1="140.3" y1="287.5" x2="371.2" y2="367.8"/><line x1="120.3" y1="306.7" x2="373.7" y2="410.4"/><line x1="96.2" y1="329.9" x2="377.0" y2="467.9"/><line x1="66.6" y1="358.4" x2="381.8" y2="549.7"/><line x1="212.8" y1="217.7" x2="29.4" y2="394.2"/><line x1="230.1" y1="220.6" x2="56.1" y2="415.2"/><line x1="248.5" y1="223.6" x2="87.5" y2="439.7"/><line x1="268.3" y1="226.9" x2="124.9" y2="468.9"/><line x1="289.5" y1="230.4" x2="170.2" y2="504.3"/><line x1="312.4" y1="234.2" x2="226.1" y2="548.0"/><line x1="337.1" y1="238.2" x2="296.8" y2="603.3"/><line x1="212.8" y1="217.7" x2="212.8" y2="207.0"/><line x1="230.1" y1="220.6" x2="230.1" y2="207.0"/><line x1="248.5" y1="223.6" x2="248.5" y2="207.0"/><line x1="268.3" y1="226.9" x2="268.3" y2="207.0"/></g><g stroke="#161616" stroke-width="1.25"><line x1="204.3" y1="225.9" x2="204.3" y2="207.4"/><line x1="194.8" y1="235.1" x2="194.8" y2="215.1"/><line x1="183.9" y1="245.5" x2="183.9" y2="224.0"/><line x1="171.5" y1="257.5" x2="171.5" y2="234.5"/><line x1="212.8" y1="200.7" x2="157.1" y2="246.8"/></g><g transform="translate(157,209)"><path d="M65.3,36.8 C65.9,38.2 67.4,46.6 67.8,49.1 C68.2,51.6 68.2,53.9 68.6,55.6 C69.0,57.3 70.8,60.1 71.1,62.0 C71.4,63.9 71.5,67.9 71.1,70.1 C70.7,72.3 68.6,76.0 67.8,78.2 C67.0,80.4 66.2,83.9 65.4,86.3 C64.6,88.7 63.0,93.5 62.1,96.1 C61.2,98.7 59.8,103.4 58.9,105.8 C58.0,108.2 56.6,112.2 55.7,113.9 C54.8,115.6 53.3,117.8 52.4,118.7 C51.5,119.6 50.1,121.9 49.2,121.0 C48.3,120.1 46.7,115.2 46.0,112.3 C45.3,109.4 44.7,102.8 44.3,99.3 C43.9,95.8 43.2,89.8 42.7,86.3 C42.2,82.8 40.9,76.4 40.3,73.4 C39.7,70.4 38.4,65.9 37.9,63.7 C37.4,61.5 36.2,58.4 36.2,57.2 C36.2,56.0 36.8,54.9 37.9,54.8 C39.0,54.7 42.4,56.4 44.3,56.4 C46.2,56.4 50.5,55.6 52.4,54.8 C54.3,54.0 57.7,52.1 58.9,50.7 C60.1,49.3 60.7,45.8 61.3,44.2 C61.9,42.6 63.0,39.5 63.5,38.5 C64.0,37.5 64.7,35.4 65.3,36.8 Z" fill="url(#gg1)" filter="url(#tx)"/></g></g><g clip-path="url(#cp21)"><rect x="157" y="345" width="109" height="130" fill="#000"/><g stroke="#2a2a2a" stroke-width="1.25"><line x1="9.7" y1="398.2" x2="214.0" y2="321.9"/><line x1="15.1" y1="416.3" x2="223.0" y2="328.8"/><line x1="21.3" y1="436.7" x2="232.6" y2="336.2"/><line x1="28.3" y1="459.9" x2="242.7" y2="344.0"/><line x1="36.2" y1="486.5" x2="253.6" y2="352.3"/><line x1="45.5" y1="517.2" x2="265.2" y2="361.2"/><line x1="56.3" y1="553.3" x2="277.6" y2="370.7"/><line x1="69.1" y1="596.0" x2="291.0" y2="381.0"/><line x1="84.6" y1="647.5" x2="305.4" y2="392.1"/><line x1="103.6" y1="710.8" x2="320.9" y2="404.0"/><line x1="127.6" y1="790.5" x2="337.7" y2="416.9"/><line x1="9.7" y1="398.2" x2="158.7" y2="893.9"/><line x1="44.8" y1="385.0" x2="211.9" y2="768.9"/><line x1="74.7" y1="373.9" x2="248.2" y2="684.0"/><line x1="100.3" y1="364.4" x2="274.4" y2="622.5"/><line x1="122.5" y1="356.1" x2="294.3" y2="575.9"/><line x1="142.0" y1="348.8" x2="309.8" y2="539.4"/><line x1="159.3" y1="342.4" x2="322.4" y2="510.0"/><line x1="174.6" y1="336.6" x2="332.7" y2="485.8"/><line x1="188.3" y1="331.5" x2="341.3" y2="465.6"/><line x1="200.7" y1="326.9" x2="348.6" y2="448.5"/><line x1="211.9" y1="322.7" x2="354.9" y2="433.7"/></g><g stroke="#161616" stroke-width="1.25"><line x1="229.0" y1="350.0" x2="229.0" y2="367.0"/><line x1="245.0" y1="348.0" x2="247.0" y2="378.0"/><line x1="261.0" y1="357.0" x2="262.0" y2="379.0"/><line x1="231.0" y1="351.0" x2="243.0" y2="375.0"/></g><g transform="translate(157,345)"><path d="M53.2,37.7 C54.3,38.4 56.7,42.5 58.0,45.4 C59.3,48.3 60.3,51.1 60.9,55.0 C61.5,58.9 61.8,64.7 61.5,68.5 C61.2,72.3 60.1,73.9 59.4,78.1 C58.7,82.3 57.9,88.7 57.2,93.5 C56.5,98.3 56.0,102.7 55.4,106.9 C54.8,111.1 54.5,115.9 53.8,118.5 C53.1,121.1 52.1,123.0 51.3,122.3 C50.5,121.6 49.5,118.8 49.0,114.6 C48.5,110.4 48.6,102.7 48.4,97.3 C48.2,91.9 48.2,86.5 47.6,82.0 C47.0,77.5 45.6,74.2 44.5,70.5 C43.4,66.8 41.3,62.8 40.7,60.0 C40.1,57.2 39.9,55.3 40.7,54.0 C41.5,52.7 43.9,52.9 45.5,52.1 C47.1,51.3 49.3,51.0 50.3,49.2 C51.3,47.4 50.8,43.4 51.3,41.5 C51.8,39.6 52.1,37.1 53.2,37.7 Z" fill="url(#gg2)" filter="url(#tx)"/></g></g><g clip-path="url(#cp12)"><rect x="272" y="209" width="109" height="130" fill="#000"/><g stroke="#2a2a2a" stroke-width="1.25"><line x1="327.8" y1="217.7" x2="478.8" y2="242.6"/><line x1="319.3" y1="225.9" x2="479.6" y2="255.3"/><line x1="309.8" y1="235.1" x2="480.4" y2="270.1"/><line x1="298.9" y1="245.5" x2="481.5" y2="287.7"/><line x1="286.5" y1="257.5" x2="482.7" y2="308.9"/><line x1="272.1" y1="271.3" x2="484.2" y2="335.0"/><line x1="255.3" y1="287.5" x2="486.2" y2="367.8"/><line x1="235.3" y1="306.7" x2="488.7" y2="410.4"/><line x1="211.2" y1="329.9" x2="492.0" y2="467.9"/><line x1="181.6" y1="358.4" x2="496.8" y2="549.7"/><line x1="327.8" y1="217.7" x2="144.4" y2="394.2"/><line x1="345.1" y1="220.6" x2="171.1" y2="415.2"/><line x1="363.5" y1="223.6" x2="202.5" y2="439.7"/><line x1="383.3" y1="226.9" x2="239.9" y2="468.9"/><line x1="404.5" y1="230.4" x2="285.2" y2="504.3"/><line x1="427.4" y1="234.2" x2="341.1" y2="548.0"/><line x1="452.1" y1="238.2" x2="411.8" y2="603.3"/><line x1="327.8" y1="217.7" x2="327.8" y2="207.0"/><line x1="345.1" y1="220.6" x2="345.1" y2="207.0"/><line x1="363.5" y1="223.6" x2="363.5" y2="207.0"/><line x1="383.3" y1="226.9" x2="383.3" y2="207.0"/></g><g stroke="#161616" stroke-width="1.25"><line x1="319.3" y1="225.9" x2="319.3" y2="207.4"/><line x1="309.8" y1="235.1" x2="309.8" y2="215.1"/><line x1="298.9" y1="245.5" x2="298.9" y2="224.0"/><line x1="286.5" y1="257.5" x2="286.5" y2="234.5"/><line x1="327.8" y1="200.7" x2="272.1" y2="246.8"/></g><g transform="translate(272,209)"><path d="M32.1,50.1 C34.6,49.2 40.6,48.8 45.3,48.6 C50.0,48.4 57.3,48.5 60.5,49.1 C63.7,49.7 64.0,50.4 64.5,52.1 C65.0,53.8 64.2,56.8 63.5,59.2 C62.8,61.6 62.2,64.4 60.5,66.3 C58.8,68.2 55.4,69.1 53.4,70.4 C51.4,71.8 50.1,74.1 48.3,74.4 C46.4,74.7 44.5,72.9 42.3,72.4 C40.1,71.9 37.1,72.2 35.2,71.4 C33.3,70.6 32.1,69.0 31.1,67.3 C30.1,65.6 29.3,63.4 29.1,61.2 C28.9,59.0 29.6,56.1 30.1,54.2 C30.6,52.4 29.6,51.0 32.1,50.1 Z" fill="#1414d8" filter="url(#tx)"/><ellipse cx="47" cy="78" rx="3" ry="5" fill="#0a0a70" filter="url(#bl)"/></g></g><g clip-path="url(#cp22)"><rect x="272" y="345" width="109" height="130" fill="#000"/><g stroke="#2a2a2a" stroke-width="1.25"><line x1="124.7" y1="398.2" x2="329.0" y2="321.9"/><line x1="130.1" y1="416.3" x2="338.0" y2="328.8"/><line x1="136.3" y1="436.7" x2="347.6" y2="336.2"/><line x1="143.3" y1="459.9" x2="357.7" y2="344.0"/><line x1="151.2" y1="486.5" x2="368.6" y2="352.3"/><line x1="160.5" y1="517.2" x2="380.2" y2="361.2"/><line x1="171.3" y1="553.3" x2="392.6" y2="370.7"/><line x1="184.1" y1="596.0" x2="406.0" y2="381.0"/><line x1="199.6" y1="647.5" x2="420.4" y2="392.1"/><line x1="218.6" y1="710.8" x2="435.9" y2="404.0"/><line x1="242.6" y1="790.5" x2="452.7" y2="416.9"/><line x1="124.7" y1="398.2" x2="273.7" y2="893.9"/><line x1="159.8" y1="385.0" x2="326.9" y2="768.9"/><line x1="189.7" y1="373.9" x2="363.2" y2="684.0"/><line x1="215.3" y1="364.4" x2="389.4" y2="622.5"/><line x1="237.5" y1="356.1" x2="409.3" y2="575.9"/><line x1="257.0" y1="348.8" x2="424.8" y2="539.4"/><line x1="274.3" y1="342.4" x2="437.4" y2="510.0"/><line x1="289.6" y1="336.6" x2="447.7" y2="485.8"/><line x1="303.3" y1="331.5" x2="456.3" y2="465.6"/><line x1="315.7" y1="326.9" x2="463.6" y2="448.5"/><line x1="326.9" y1="322.7" x2="469.9" y2="433.7"/></g><g stroke="#161616" stroke-width="1.25"><line x1="344.0" y1="350.0" x2="344.0" y2="367.0"/><line x1="360.0" y1="348.0" x2="362.0" y2="378.0"/><line x1="376.0" y1="357.0" x2="377.0" y2="379.0"/><line x1="346.0" y1="351.0" x2="358.0" y2="375.0"/></g><g transform="translate(272,345)"><path d="M48.2,53.2 C49.2,51.5 52.1,50.8 54.3,50.1 C56.5,49.4 59.2,48.8 61.4,49.1 C63.6,49.4 66.3,50.8 67.5,52.1 C68.7,53.5 68.8,55.9 68.5,57.2 C68.2,58.6 67.1,59.5 65.4,60.2 C63.7,60.9 60.1,60.6 58.4,61.3 C56.7,62.0 56.0,62.8 55.3,64.3 C54.6,65.8 55.0,68.7 54.3,70.4 C53.6,72.1 52.5,73.7 51.3,74.4 C50.1,75.1 48.2,74.9 47.2,74.4 C46.2,73.9 46.2,71.7 45.2,71.4 C44.2,71.1 42.7,72.6 41.2,72.4 C39.7,72.2 37.3,71.1 36.1,70.4 C34.9,69.7 34.1,69.0 34.1,68.3 C34.1,67.6 34.9,66.8 36.1,66.3 C37.3,65.8 39.5,65.5 41.2,65.3 C42.9,65.1 45.0,66.1 46.2,65.3 C47.4,64.5 47.9,62.2 48.2,60.2 C48.5,58.2 47.2,54.9 48.2,53.2 Z" fill="url(#bg2)" filter="url(#tx)"/><path d="M36.5,72 L35.5,82 M40.5,73 L41,82" stroke="#0c0c90" stroke-width="2.4" opacity="0.6" filter="url(#bl)"/></g></g><g clip-path="url(#cp13)"><rect x="387" y="209" width="109" height="130" fill="#000"/><g stroke="#2a2a2a" stroke-width="1.25"><line x1="442.8" y1="217.7" x2="593.8" y2="242.6"/><line x1="434.3" y1="225.9" x2="594.6" y2="255.3"/><line x1="424.8" y1="235.1" x2="595.4" y2="270.1"/><line x1="413.9" y1="245.5" x2="596.5" y2="287.7"/><line x1="401.5" y1="257.5" x2="597.7" y2="308.9"/><line x1="387.1" y1="271.3" x2="599.2" y2="335.0"/><line x1="370.3" y1="287.5" x2="601.2" y2="367.8"/><line x1="350.3" y1="306.7" x2="603.7" y2="410.4"/><line x1="326.2" y1="329.9" x2="607.0" y2="467.9"/><line x1="296.6" y1="358.4" x2="611.8" y2="549.7"/><line x1="442.8" y1="217.7" x2="259.4" y2="394.2"/><line x1="460.1" y1="220.6" x2="286.1" y2="415.2"/><line x1="478.5" y1="223.6" x2="317.5" y2="439.7"/><line x1="498.3" y1="226.9" x2="354.9" y2="468.9"/><line x1="519.5" y1="230.4" x2="400.2" y2="504.3"/><line x1="542.4" y1="234.2" x2="456.1" y2="548.0"/><line x1="567.1" y1="238.2" x2="526.8" y2="603.3"/><line x1="442.8" y1="217.7" x2="442.8" y2="207.0"/><line x1="460.1" y1="220.6" x2="460.1" y2="207.0"/><line x1="478.5" y1="223.6" x2="478.5" y2="207.0"/><line x1="498.3" y1="226.9" x2="498.3" y2="207.0"/></g><g stroke="#161616" stroke-width="1.25"><line x1="434.3" y1="225.9" x2="434.3" y2="207.4"/><line x1="424.8" y1="235.1" x2="424.8" y2="215.1"/><line x1="413.9" y1="245.5" x2="413.9" y2="224.0"/><line x1="401.5" y1="257.5" x2="401.5" y2="234.5"/><line x1="442.8" y1="200.7" x2="387.1" y2="246.8"/></g><g transform="translate(387,209)"><path d="M32.1,50.1 C34.6,49.2 40.6,48.8 45.3,48.6 C50.0,48.4 57.3,48.5 60.5,49.1 C63.7,49.7 64.0,50.4 64.5,52.1 C65.0,53.8 64.2,56.8 63.5,59.2 C62.8,61.6 62.2,64.4 60.5,66.3 C58.8,68.2 55.4,69.1 53.4,70.4 C51.4,71.8 50.1,74.1 48.3,74.4 C46.4,74.7 44.5,72.9 42.3,72.4 C40.1,71.9 37.1,72.2 35.2,71.4 C33.3,70.6 32.1,69.0 31.1,67.3 C30.1,65.6 29.3,63.4 29.1,61.2 C28.9,59.0 29.6,56.1 30.1,54.2 C30.6,52.4 29.6,51.0 32.1,50.1 Z" fill="#1414e0" filter="url(#bl)"/><path d="M65.3,36.8 C65.9,38.2 67.4,46.6 67.8,49.1 C68.2,51.6 68.2,53.9 68.6,55.6 C69.0,57.3 70.8,60.1 71.1,62.0 C71.4,63.9 71.5,67.9 71.1,70.1 C70.7,72.3 68.6,76.0 67.8,78.2 C67.0,80.4 66.2,83.9 65.4,86.3 C64.6,88.7 63.0,93.5 62.1,96.1 C61.2,98.7 59.8,103.4 58.9,105.8 C58.0,108.2 56.6,112.2 55.7,113.9 C54.8,115.6 53.3,117.8 52.4,118.7 C51.5,119.6 50.1,121.9 49.2,121.0 C48.3,120.1 46.7,115.2 46.0,112.3 C45.3,109.4 44.7,102.8 44.3,99.3 C43.9,95.8 43.2,89.8 42.7,86.3 C42.2,82.8 40.9,76.4 40.3,73.4 C39.7,70.4 38.4,65.9 37.9,63.7 C37.4,61.5 36.2,58.4 36.2,57.2 C36.2,56.0 36.8,54.9 37.9,54.8 C39.0,54.7 42.4,56.4 44.3,56.4 C46.2,56.4 50.5,55.6 52.4,54.8 C54.3,54.0 57.7,52.1 58.9,50.7 C60.1,49.3 60.7,45.8 61.3,44.2 C61.9,42.6 63.0,39.5 63.5,38.5 C64.0,37.5 64.7,35.4 65.3,36.8 Z" fill="url(#gg1)" filter="url(#tx)"/><path d="M49.1,57.8 C51.3,57.1 55.4,56.5 58.3,56.5 C61.1,56.5 64.0,56.9 66.2,57.8 C68.4,58.7 70.5,60.3 71.5,61.8 C72.5,63.3 72.3,64.8 72.1,67.0 C71.9,69.2 71.2,72.5 70.2,74.9 C69.2,77.3 67.8,79.7 66.2,81.5 C64.7,83.3 62.1,84.0 60.9,85.5 C59.7,87.0 59.6,88.7 59.0,90.7 C58.4,92.7 57.8,95.5 57.0,97.3 C56.2,99.1 55.5,100.4 54.4,101.3 C53.3,102.2 51.6,103.0 50.4,102.6 C49.2,102.1 48.0,100.8 47.1,98.6 C46.2,96.4 45.9,92.5 45.2,89.4 C44.6,86.3 43.8,83.1 43.2,80.2 C42.7,77.3 42.0,74.7 41.9,72.3 C41.8,69.9 42.0,67.7 42.5,65.7 C43.0,63.7 44.1,61.8 45.2,60.5 C46.3,59.2 46.9,58.5 49.1,57.8 Z" fill="url(#og1)" filter="url(#tx)"/><path d="M32.1,50.1 C34.6,49.2 40.6,48.8 45.3,48.6 C50.0,48.4 57.3,48.5 60.5,49.1 C63.7,49.7 64.0,50.4 64.5,52.1 C65.0,53.8 64.2,56.8 63.5,59.2 C62.8,61.6 62.2,64.4 60.5,66.3 C58.8,68.2 55.4,69.1 53.4,70.4 C51.4,71.8 50.1,74.1 48.3,74.4 C46.4,74.7 44.5,72.9 42.3,72.4 C40.1,71.9 37.1,72.2 35.2,71.4 C33.3,70.6 32.1,69.0 31.1,67.3 C30.1,65.6 29.3,63.4 29.1,61.2 C28.9,59.0 29.6,56.1 30.1,54.2 C30.6,52.4 29.6,51.0 32.1,50.1 Z" fill="url(#bgrad)" filter="url(#bl)"/><ellipse cx="51" cy="61" rx="3.5" ry="2.2" fill="#e070d0" filter="url(#bl2)" opacity="0.8"/><ellipse cx="58" cy="58" rx="5" ry="2.5" fill="#d8e030" filter="url(#bl2)" opacity="0.85"/></g></g><g clip-path="url(#cp23)"><rect x="387" y="345" width="109" height="130" fill="#000"/><g stroke="#2a2a2a" stroke-width="1.25"><line x1="239.7" y1="398.2" x2="444.0" y2="321.9"/><line x1="245.1" y1="416.3" x2="453.0" y2="328.8"/><line x1="251.3" y1="436.7" x2="462.6" y2="336.2"/><line x1="258.3" y1="459.9" x2="472.7" y2="344.0"/><line x1="266.2" y1="486.5" x2="483.6" y2="352.3"/><line x1="275.5" y1="517.2" x2="495.2" y2="361.2"/><line x1="286.3" y1="553.3" x2="507.6" y2="370.7"/><line x1="299.1" y1="596.0" x2="521.0" y2="381.0"/><line x1="314.6" y1="647.5" x2="535.4" y2="392.1"/><line x1="333.6" y1="710.8" x2="550.9" y2="404.0"/><line x1="357.6" y1="790.5" x2="567.7" y2="416.9"/><line x1="239.7" y1="398.2" x2="388.7" y2="893.9"/><line x1="274.8" y1="385.0" x2="441.9" y2="768.9"/><line x1="304.7" y1="373.9" x2="478.2" y2="684.0"/><line x1="330.3" y1="364.4" x2="504.4" y2="622.5"/><line x1="352.5" y1="356.1" x2="524.3" y2="575.9"/><line x1="372.0" y1="348.8" x2="539.8" y2="539.4"/><line x1="389.3" y1="342.4" x2="552.4" y2="510.0"/><line x1="404.6" y1="336.6" x2="562.7" y2="485.8"/><line x1="418.3" y1="331.5" x2="571.3" y2="465.6"/><line x1="430.7" y1="326.9" x2="578.6" y2="448.5"/><line x1="441.9" y1="322.7" x2="584.9" y2="433.7"/></g><g stroke="#161616" stroke-width="1.25"><line x1="459.0" y1="350.0" x2="459.0" y2="367.0"/><line x1="475.0" y1="348.0" x2="477.0" y2="378.0"/><line x1="491.0" y1="357.0" x2="492.0" y2="379.0"/><line x1="461.0" y1="351.0" x2="473.0" y2="375.0"/></g><g transform="translate(387,345)"><path d="M53.2,37.7 C54.3,38.4 56.7,42.5 58.0,45.4 C59.3,48.3 60.3,51.1 60.9,55.0 C61.5,58.9 61.8,64.7 61.5,68.5 C61.2,72.3 60.1,73.9 59.4,78.1 C58.7,82.3 57.9,88.7 57.2,93.5 C56.5,98.3 56.0,102.7 55.4,106.9 C54.8,111.1 54.5,115.9 53.8,118.5 C53.1,121.1 52.1,123.0 51.3,122.3 C50.5,121.6 49.5,118.8 49.0,114.6 C48.5,110.4 48.6,102.7 48.4,97.3 C48.2,91.9 48.2,86.5 47.6,82.0 C47.0,77.5 45.6,74.2 44.5,70.5 C43.4,66.8 41.3,62.8 40.7,60.0 C40.1,57.2 39.9,55.3 40.7,54.0 C41.5,52.7 43.9,52.9 45.5,52.1 C47.1,51.3 49.3,51.0 50.3,49.2 C51.3,47.4 50.8,43.4 51.3,41.5 C51.8,39.6 52.1,37.1 53.2,37.7 Z" fill="url(#gg2)" filter="url(#tx)"/><path d="M48.2,53.2 C49.2,51.5 52.1,50.8 54.3,50.1 C56.5,49.4 59.2,48.8 61.4,49.1 C63.6,49.4 66.3,50.8 67.5,52.1 C68.7,53.5 68.8,55.9 68.5,57.2 C68.2,58.6 67.1,59.5 65.4,60.2 C63.7,60.9 60.1,60.6 58.4,61.3 C56.7,62.0 56.0,62.8 55.3,64.3 C54.6,65.8 55.0,68.7 54.3,70.4 C53.6,72.1 52.5,73.7 51.3,74.4 C50.1,75.1 48.2,74.9 47.2,74.4 C46.2,73.9 46.2,71.7 45.2,71.4 C44.2,71.1 42.7,72.6 41.2,72.4 C39.7,72.2 37.3,71.1 36.1,70.4 C34.9,69.7 34.1,69.0 34.1,68.3 C34.1,67.6 34.9,66.8 36.1,66.3 C37.3,65.8 39.5,65.5 41.2,65.3 C42.9,65.1 45.0,66.1 46.2,65.3 C47.4,64.5 47.9,62.2 48.2,60.2 C48.5,58.2 47.2,54.9 48.2,53.2 Z" fill="url(#bg2)" filter="url(#tx)"/><path d="M36.5,72 L35.5,82 M40.5,73 L41,82" stroke="#0c0c90" stroke-width="2.4" opacity="0.6" filter="url(#bl)"/><circle cx="42.9" cy="47.2" r="2.4" fill="#ff2040" filter="url(#bl2)"/><circle cx="42.3" cy="64.8" r="1.8" fill="#c01030" filter="url(#bl2)"/><circle cx="48.4" cy="68" r="2.2" fill="#e01838" filter="url(#bl2)"/><circle cx="42.3" cy="83.6" r="1.8" fill="#801020" filter="url(#bl2)"/><rect x="85.6" y="117.6" width="13.3" height="2" fill="#fff"/></g></g></g>
</svg>
</body></html>
